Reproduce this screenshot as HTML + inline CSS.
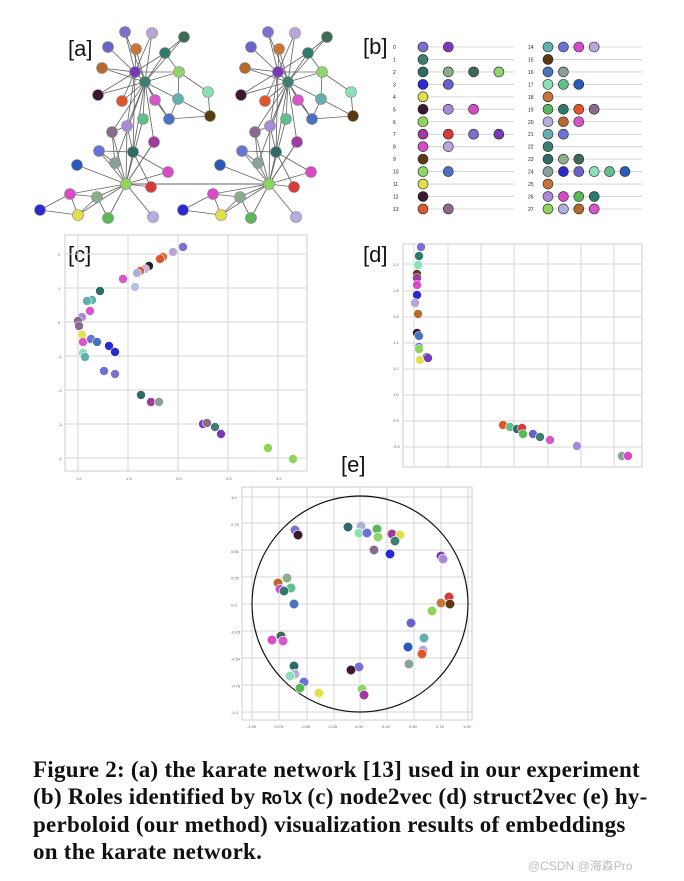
<!DOCTYPE html>
<html><head><meta charset="utf-8"><style>
html,body{margin:0;padding:0;background:#fff;width:684px;height:881px;overflow:hidden}
svg{position:absolute;left:0;top:0}
.cap{position:absolute;left:33px;top:756px;font:bold 23px/27.3px "Liberation Serif",serif;color:#111;white-space:nowrap;letter-spacing:0.25px}
.cap div{height:27.3px;line-height:27.3px}
.mono{font-family:"Liberation Mono",monospace;font-weight:bold;font-size:18px;letter-spacing:-0.8px;line-height:1}
.wm{position:absolute;left:528px;top:857px;font:12px "Liberation Sans","Noto Sans CJK SC",sans-serif;color:#bbb}
</style></head><body>
<svg id="s" width="684" height="881" xmlns="http://www.w3.org/2000/svg">
<g font-family="Liberation Sans, sans-serif" font-size="22" fill="#111">
<text x="68" y="56">[a]</text><text x="363" y="54">[b]</text>
<text x="68" y="262">[c]</text><text x="363" y="262">[d]</text><text x="341" y="472">[e]</text>
</g>
<g id="g"></g>
</svg>
<div class="cap"><div>Figure 2: (a) the karate network [13] used in our experiment</div><div>(b) Roles identified by <span class="mono">RolX</span> (c) node2vec (d) struct2vec (e) hy-</div><div>perboloid (our method) visualization results of embeddings</div><div>on the karate network.</div></div>
<div class="wm">@CSDN @海森Pro</div>
<script>
var g=document.getElementById('g'),h='';
var P=['#7b6fd0','#b9a6d8','#3e6b55','#6a62c9','#c8743a','#2f7a6f','#b56a2c','#7a3ab8','#3f7f72','#8fd66a','#8ce0b8','#3a1830','#e0552c','#d658c8','#62b0ae','#5a3a10','#4a72c0','#5fc08a','#a98ad8','#8a6a8a','#a03aa0','#6a72d8','#2f6a66','#8aa09a','#2a5ab8','#d84ac8','#8ed45a','#d83a3a','#d84ac8','#8aae8a','#2a2ad0','#e0e04a','#5ab85a','#b0b0e0'];
function c(x,y,r,f,st){h+='<circle cx="'+x+'" cy="'+y+'" r="'+r+'" fill="'+f+'" stroke="'+(st||'#444')+'" stroke-width="0.6"/>';}
function L(a,b,d,e,col,w){h+='<line x1="'+a+'" y1="'+b+'" x2="'+d+'" y2="'+e+'" stroke="'+col+'" stroke-width="'+w+'"/>';}
var N=[[125,32],[152,33],[184,37],[108,47],[136,49],[165,53],[102,68],[135,72],[145,82],[179,72],[208,92],[98,95],[122,101],[155,100],[178,99],[210,116],[169,119],[143,119],[127,126],[112,132],[154,142],[99,151],[133,152],[115,163],[77,165],[168,172],[126,184],[151,187],[70,194],[97,197],[40,210],[78,215],[108,218],[153,217]];
var E=[];[0,1,2,3,4,5,6,7,9,11,12,13,14,16,17,18,19,20,22,23].forEach(function(i){E.push([8,i])});
[0,1,4,5,6,9,11,12,18,22].forEach(function(i){E.push([7,i])});
E=E.concat([[5,2],[5,9],[9,10],[9,14],[10,15],[14,16],[14,15],[16,15],[16,13]]);
[18,19,20,21,22,23,24,25,27,28,29,31,32,33,17].forEach(function(i){E.push([26,i])});
E=E.concat([[18,22],[18,19],[21,23],[21,22],[19,23],[28,29],[28,30],[28,31],[30,31],[29,31],[29,32],[22,27],[22,25],[20,26]]);
[0,143].forEach(function(o){E.forEach(function(e){L(N[e[0]][0]+o,N[e[0]][1],N[e[1]][0]+o,N[e[1]][1],'#666',0.85)})});
L(126,184,269,184,'#666',1);
[0,143].forEach(function(o){N.forEach(function(n,i){c(n[0]+o,n[1],5.5,P[i],'#888')})});
var rl=[2,1,4,2,1,3,1,4,2,1,2,1,1,2],rr=[4,1,2,3,1,4,3,2,1,3,6,1,4,4],k=0;
function row(x0,xl,xs,xe,dx,cnt,y,lab){h+='<text x="'+xl+'" y="'+(y+2)+'" font-size="5" font-family="Liberation Sans" fill="#222">'+lab+'</text>';L(xs,y,xe,y,'#ccc',0.8);for(var i=0;i<cnt;i++){c(xs+i*dx,y,5,P[(k++*7)%34],'#222')}}
for(var i=0;i<14;i++){var y=47+i*12.46;row(0,393,423,514,25.3,rl[i],y,i);row(0,528,548,642,15.4,rr[i],y,i+14)}
function ax(x0,y0,x1,y1,vx,hy){h+='<rect x="'+x0+'" y="'+y0+'" width="'+(x1-x0)+'" height="'+(y1-y0)+'" fill="none" stroke="#ccc" stroke-width="1"/>';vx.forEach(function(v){L(v,y0,v,y1,'#d4d4d4',1)});hy.forEach(function(v){L(x0,v,x1,v,'#d4d4d4',1)});}
ax(65,235,307,471,[78,128,178,228,278],[254,288,322,356,390,424,458]);
ax(403,244,642,467,[414,448,481,514,548,581,614],[264,291,317,343,369,395,421,447]);
ax(242,487,472,720,[252,279,307,334,360,387,414,441,468],[497,523,550,577,604,631,658,685,712]);
var tk='<g font-size="4" fill="#666" font-family="Liberation Sans">';
['1.0','1.5','2.0','2.5','3.0'].forEach(function(t,i){tk+='<text x="'+(76+i*50)+'" y="480">'+t+'</text>'});
['2','1','0','-1','-2','-3','-4'].forEach(function(t,i){tk+='<text x="58" y="'+(256+i*34)+'">'+t+'</text>'});
['2.0','1.8','1.6','1.4','1.2','1.0','0.0','-0.2'].forEach(function(t,i){tk+='<text x="393" y="'+(266+i*26)+'">'+t+'</text>'});
['-1.00','-0.75','-0.50','-0.25','0.00','0.25','0.50','0.75','1.00'].forEach(function(t,i){tk+='<text x="'+(247+i*27)+'" y="728">'+t+'</text>'});
['1.0','0.75','0.50','0.25','0.0','-0.25','-0.50','-0.75','-1.0'].forEach(function(t,i){tk+='<text x="231" y="'+(499+i*26.9)+'">'+t+'</text>'});
h+=tk+'</g>';
h+='<circle cx="360" cy="604" r="108" fill="none" stroke="#111" stroke-width="1.2"/>';
var C=[[183,247],[173,252],[163,257],[160,259],[149,266],[145,269],[140,271],[137,273],[123,279],[135,287],[100,291],[92,300],[87,301],[90,311],[82,317],[78,321],[79,326],[82,335],[83,342],[91,339],[97,342],[109,346],[115,352],[83,353],[85,357],[104,371],[115,374],[141,395],[151,402],[159,402],[203,424],[207,423],[215,427],[221,434],[268,448],[293,459]];
var D=[[421,247],[419,256],[418,265],[417,274],[417,278],[417,285],[417,295],[415,303],[418,314],[417,333],[419,336],[419,347],[419,349],[420,360],[427,357],[428,358],[503,425],[510,427],[517,429],[522,428],[523,434],[533,434],[540,437],[550,440],[577,446],[622,456],[628,456]];
var F=[[295,530],[298,535],[348,527],[361,526],[359,533],[367,533],[377,529],[378,537],[392,534],[400,535],[395,541],[374,550],[390,554],[441,556],[443,559],[287,578],[278,583],[291,588],[280,589],[284,591],[294,604],[449,597],[441,603],[450,604],[432,611],[411,623],[424,638],[272,640],[281,636],[283,641],[408,647],[423,650],[422,654],[409,664],[359,667],[351,670],[294,666],[295,674],[290,676],[304,682],[300,688],[362,689],[364,695],[319,693]];
var Cc=['#7b6fd0','#b9a6d8','#c8743a','#e0552c','#222','#d0b0d8','#e0552c','#b0b0e0','#d658c8','#b9c0e8','#2f6a66','#62b0ae','#62b0ae','#d658c8','#a98ad8','#8a6a8a','#8a6a8a','#e0e04a','#d658c8','#6a72d8','#4a72c0','#2a2ad0','#2a2ad0','#8ce0b8','#62b0ae','#6a72d8','#7b6fd0','#2f6a66','#a03aa0','#8aa09a','#7a3ab8','#8a6a8a','#3f7f72','#7a3ab8','#8ed45a','#8ed45a'];
C.forEach(function(p,i){c(p[0],p[1],4.5,Cc[i%Cc.length],'#fff')});
D.forEach(function(p,i){c(p[0],p[1],4.5,P[(i*5)%34],'#fff')});
F.forEach(function(p,i){c(p[0],p[1],4.8,P[(i*11)%34],'#fff')});
g.innerHTML=h;
</script>
</body></html>
